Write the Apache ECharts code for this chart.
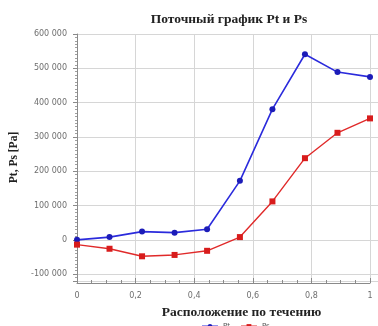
<!DOCTYPE html>
<html>
<head>
<meta charset="utf-8">
<script src="https://cdn.jsdelivr.net/npm/echarts@6/dist/echarts.min.js"></script>
<style>
  html, body { margin: 0; padding: 0; background: #fff; }
  #chart { width: 378px; height: 326px; }
</style>
</head>
<body>
<div id="chart"></div>
<script>
// Positions along the flow (relative) and pressures in Pa
const positions = [0, 0.111, 0.222, 0.333, 0.444, 0.556, 0.667, 0.778, 0.889, 1];
const ptValues = [0, 8000, 24000, 21000, 31000, 172000, 381000, 541000, 489000, 475000];
const psValues = [-14000, -26000, -48000, -44000, -32000, 8000, 112000, 238000, 312000, 354000];
const seriesNames = ['Pt', 'Ps'];
const xTickLabels = ['0', '0,2', '0,4', '0,6', '0,8', '1'];

const Y_MIN = -120000, Y_MAX = 600000;

function fmtThousands(v) {
  const s = String(Math.abs(Math.round(v))).replace(/\B(?=(\d{3})+(?!\d))/g, ' ');
  return (v < 0 ? '-' : '') + s;
}

const chart = echarts.init(document.getElementById('chart'), null, { renderer: 'canvas' });

const axisGray = '#8a8a8a';
const gridGray = '#d6d6d6';
const labelStyle = { color: '#6e6e6e', fontSize: 8, fontFamily: 'DejaVu Sans' };

chart.setOption({
  backgroundColor: '#fff',
  animation: false,
  title: {
    text: 'Поточный график Pt и Ps',
    left: 224,
    top: 8,
    textAlign: 'center',
    textStyle: { fontFamily: 'Liberation Serif', fontWeight: 'bold', fontSize: 13.5, color: '#222' }
  },
  legend: {
    data: seriesNames,
    left: 196,
    top: 318,
    itemWidth: 16,
    itemHeight: 6,
    itemGap: 10,
    textStyle: { fontSize: 7, color: '#555', fontFamily: 'DejaVu Sans' }
  },
  grid: [
    { left: 72, right: 0, top: 34, bottom: 45 },
    { left: 77, right: 8, top: 34, bottom: 45 }
  ],
  xAxis: [
    { gridIndex: 0, type: 'value', min: 0, max: 1, show: false },
    {
      gridIndex: 1, type: 'value', min: 0, max: 1, interval: 0.2, offset: 2,
      name: 'Расположение по течению',
      nameLocation: 'middle',
      nameGap: 23,
      nameTextStyle: { fontFamily: 'Liberation Serif', fontWeight: 'bold', fontSize: 13.5, color: '#222', padding: [0, 0, 0, 36] },
      axisLine: { show: true, onZero: false, lineStyle: { color: axisGray, width: 1 } },
      axisTick: { show: true, inside: true, length: 5, lineStyle: { color: axisGray } },
      minorTick: { show: true, splitNumber: 4, length: 3, lineStyle: { color: axisGray } },
      axisLabel: {
        ...labelStyle, margin: 9,
        formatter: (v) => xTickLabels[Math.round(v / 0.2)]
      },
      splitLine: { show: true, lineStyle: { color: gridGray, width: 1 } }
    }
  ],
  yAxis: [
    {
      gridIndex: 0, type: 'value', min: Y_MIN, max: Y_MAX, splitNumber: 6,
      name: 'Pt, Ps [Pa]',
      nameLocation: 'middle',
      nameGap: 57,
      nameTextStyle: { fontFamily: 'Liberation Serif', fontWeight: 'bold', fontSize: 11.5, color: '#222' },
      axisLine: { show: true, onZero: false, lineStyle: { color: axisGray, width: 1 } },
      axisTick: { show: true, inside: false, length: 4, lineStyle: { color: axisGray } },
      minorTick: { show: true, splitNumber: 10, length: 2, lineStyle: { color: '#a0a0a0' } },
      axisLabel: { ...labelStyle, margin: 10, showMinLabel: false, formatter: fmtThousands },
      splitLine: { show: true, lineStyle: { color: gridGray, width: 1 } }
    },
    { gridIndex: 1, type: 'value', min: Y_MIN, max: Y_MAX, show: false }
  ],
  series: [
    {
      name: seriesNames[0], type: 'line', xAxisIndex: 1, yAxisIndex: 1,
      data: positions.map((x, i) => [x, ptValues[i]]),
      symbol: 'circle', symbolSize: 6,
      lineStyle: { color: '#2b2bdc', width: 1.6 },
      itemStyle: { color: '#1c1cb8' }
    },
    {
      name: seriesNames[1], type: 'line', xAxisIndex: 1, yAxisIndex: 1,
      data: positions.map((x, i) => [x, psValues[i]]),
      symbol: 'rect', symbolSize: 6,
      lineStyle: { color: '#e02a2a', width: 1.4 },
      itemStyle: { color: '#d81c1c' }
    }
  ]
});
</script>
</body>
</html>
